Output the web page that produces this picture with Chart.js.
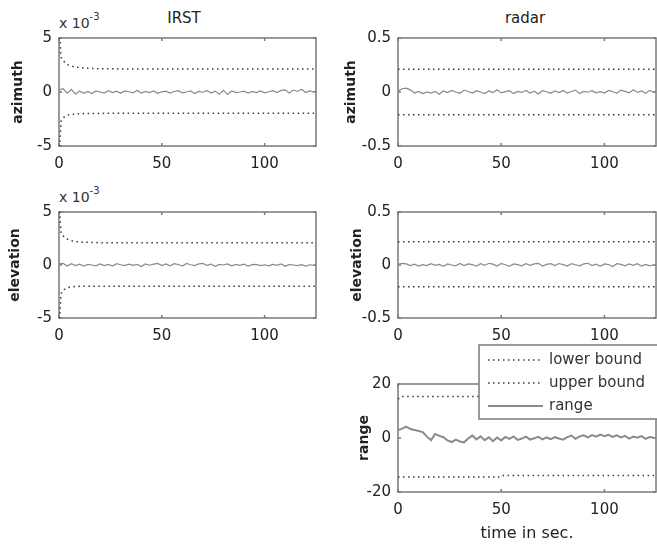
<!DOCTYPE html>
<html>
<head>
<meta charset="utf-8">
<script src="https://cdn.jsdelivr.net/npm/chart.js@4.4.1/dist/chart.umd.min.js"></script>
<style>
  body { margin: 0; background: #fff; width: 657px; height: 545px; overflow: hidden; position: relative; font-family: "DejaVu Sans", sans-serif; }
  .panel { position: absolute; }
  .lbl { position: absolute; color: #222; white-space: nowrap; font-size: 15px; line-height: 18px; }
  .mult { position: absolute; color: #333; white-space: nowrap; font-size: 14px; line-height: 17px; }
  .mult span { position: relative; top: -8px; font-size: 10px; }
</style>
</head>
<body>
<div class="lbl" style="left:184px; top:9px; transform:translateX(-50%);">IRST</div>
<div class="lbl" style="left:525px; top:9px; transform:translateX(-50%);">radar</div>
<div class="mult" style="left:59px; top:15px;">x 10<span>-3</span></div>
<div class="mult" style="left:59px; top:189px;">x 10<span>-3</span></div>

<script>
// tempo (s) - amostras a cada 2 s
const timeSec = [0,2,4,6,8,10,12,14,16,18,
                 20,22,24,26,28,30,32,34,36,38,
                 40,42,44,46,48,50,52,54,56,58,
                 60,62,64,66,68,70,72,74,76,78,
                 80,82,84,86,88,90,92,94,96,98,
                 100,102,104,106,108,110,112,114,116,118,
                 120,122,124];

// IRST azimute (x 10^-3)
const irstAz = [0.20,0.30,-0.10,0.25,-0.20,0.10,-0.12,0.05,-0.15,0.10,
                0.00,-0.10,0.12,-0.05,0.08,-0.12,0.10,0.02,-0.08,0.15,
                -0.10,0.05,-0.05,0.10,-0.12,0.02,0.08,-0.10,0.05,0.12,
                -0.08,0.00,0.10,-0.15,0.05,-0.02,0.12,-0.10,0.08,-0.20,
                0.15,-0.22,0.10,-0.05,0.00,0.08,-0.10,0.05,-0.06,0.10,
                -0.08,0.02,0.12,-0.05,0.15,0.20,-0.10,0.18,0.05,0.25,
                -0.05,0.10,0.00];
const irstAzBoundTime = [0,1,2,3,4,6,8,12,20,40,125];
const irstAzUpper = [6.0,3.2,2.9,2.7,2.55,2.4,2.3,2.22,2.15,2.13,2.13];
const irstAzLower = [-6.0,-2.7,-2.4,-2.25,-2.15,-2.08,-2.04,-2.0,-1.98,-1.97,-1.97];

// IRST elevação (x 10^-3)
const irstEl = [0.10,0.15,-0.10,0.12,-0.05,0.08,-0.10,0.05,0.00,-0.08,
                0.10,-0.05,0.06,-0.10,0.12,0.02,-0.06,0.08,-0.04,0.05,
                -0.15,0.10,-0.02,0.08,0.15,-0.05,0.10,-0.08,0.12,0.05,
                -0.10,0.14,0.02,-0.06,0.10,0.15,-0.04,0.08,-0.12,0.06,
                0.00,0.10,-0.08,0.05,-0.03,0.08,-0.10,0.04,0.06,-0.05,
                0.02,-0.08,0.06,-0.04,0.10,-0.12,0.05,0.00,-0.06,0.04,
                -0.10,0.02,-0.05];
const irstElBoundTime = [0,1,2,3,4,6,8,12,20,125];
const irstElUpper = [6.0,3.0,2.75,2.6,2.45,2.3,2.2,2.15,2.1,2.1];
const irstElLower = [-6.0,-2.7,-2.4,-2.25,-2.15,-2.08,-2.03,-2.0,-2.0,-2.0];

// radar azimute / elevação
const radarAz = [0.010,0.030,0.035,0.020,-0.010,0.005,-0.015,0.000,-0.010,0.005,
                 -0.020,0.010,-0.005,0.015,0.000,-0.012,0.018,0.005,-0.010,0.012,
                 0.000,-0.015,0.010,-0.005,0.020,-0.008,0.004,0.012,-0.015,0.006,
                 -0.004,0.015,-0.010,0.008,-0.018,0.012,0.002,-0.012,0.010,-0.006,
                 0.015,-0.010,0.005,0.018,-0.014,0.006,-0.002,0.012,-0.008,0.004,
                 -0.010,0.014,0.004,-0.012,0.018,0.006,-0.008,0.020,-0.004,0.010,
                 -0.012,0.015,-0.005];
const radarEl = [0.005,0.015,0.010,-0.005,0.008,-0.010,0.004,-0.006,0.012,-0.004,
                 0.006,-0.012,0.010,0.000,-0.008,0.014,-0.006,0.010,0.004,-0.010,
                 0.012,-0.004,0.016,0.008,-0.010,0.014,0.002,-0.012,0.010,0.004,
                 -0.008,0.012,-0.004,0.010,0.016,-0.010,0.006,0.012,-0.006,0.014,
                 0.004,-0.010,0.012,0.002,-0.008,0.010,0.016,-0.006,0.008,-0.012,
                 0.010,0.004,-0.014,0.012,0.006,-0.008,0.010,-0.004,0.012,-0.010,
                 0.006,-0.008,0.002];
const radarBoundTime = [0,125];
const radarAzUpper = [0.21,0.21];
const radarAzLower = [-0.21,-0.21];
const radarElUpper = [0.22,0.22];
const radarElLower = [-0.205,-0.205];

// distância (range)
const rangeMeas = [2.8,3.5,4.2,3.3,3.0,2.6,2.2,0.5,-0.8,1.5,
                   0.8,0.3,-0.9,-1.5,-0.6,-1.3,-1.6,-0.2,0.9,-0.5,
                   0.6,-0.8,0.3,-1.2,0.2,-0.9,0.4,-0.3,0.6,-0.7,
                   -0.2,0.5,-0.6,-0.1,0.4,-0.5,0.2,-0.4,0.3,-0.2,
                   -0.6,0.3,0.9,-0.3,0.6,1.0,0.2,1.1,0.5,1.3,
                   0.7,1.2,0.4,1.0,0.2,0.8,-0.2,0.5,0.1,0.7,
                   -0.3,0.4,0.1];
const rangeUpperTime = [0,2,125];
const rangeUpper = [14.4,15.4,15.4];
const rangeLowerTime = [0,50,51,125];
const rangeLower = [-14.4,-14.4,-13.9,-13.9];

// ticks
const timeTicks = [0,50,100];
const irstTicks = [-5,0,5];
const radarTicks = [-0.5,0,0.5];
const rangeTicks = [-20,0,20];

const toXY = (xs, ys) => xs.map((x, i) => ({x: x, y: ys[i]}));

const BOUND = '#3a3a3a';
const MEAS = '#8a8a8a';

function boundSet(label, xs, ys) {
    return { label: label, data: toXY(xs, ys), borderColor: BOUND, borderWidth: 1.5,
             borderDash: [1.5, 3.5], pointRadius: 0, tension: 0, fill: false };
}
function measSet(label, xs, ys, w) {
    return { label: label, data: toXY(xs, ys), borderColor: MEAS, borderWidth: w || 1.2,
             pointRadius: 0, tension: 0, fill: false };
}

// moldura estilo MATLAB com ticks para dentro
const matlabFrame = {
    id: 'matlabFrame',
    beforeDatasetsDraw(chart) {
        const {ctx, chartArea: a, scales} = chart;
        ctx.save();
        ctx.strokeStyle = '#7a7a7a';
        ctx.lineWidth = 1.5;
        ctx.strokeRect(a.left, a.top, a.right - a.left, a.bottom - a.top);
        ctx.beginPath();
        scales.x.ticks.forEach(t => {
            const x = scales.x.getPixelForValue(t.value);
            ctx.moveTo(x, a.bottom); ctx.lineTo(x, a.bottom - 3);
            ctx.moveTo(x, a.top); ctx.lineTo(x, a.top + 3);
        });
        scales.y.ticks.forEach(t => {
            const y = scales.y.getPixelForValue(t.value);
            ctx.moveTo(a.left, y); ctx.lineTo(a.left + 3, y);
            ctx.moveTo(a.right, y); ctx.lineTo(a.right - 3, y);
        });
        ctx.stroke();
        ctx.restore();
    }
};

// legenda com caixa, posicionada sobre o eixo (como no MATLAB)
const boxLegend = {
    id: 'boxLegend',
    afterDraw(chart, args, opts) {
        if (!opts || !opts.display) return;
        const {ctx, chartArea: a} = chart;
        const left = a.left + opts.dx, top = a.top + opts.dy;
        ctx.save();
        ctx.fillStyle = '#fff';
        ctx.strokeStyle = '#7a7a7a';
        ctx.lineWidth = 1.5;
        ctx.fillRect(left, top, opts.w, opts.h);
        ctx.strokeRect(left, top, opts.w, opts.h);
        ctx.font = '15px "DejaVu Sans"';
        ctx.textBaseline = 'middle';
        chart.data.datasets.forEach((ds, i) => {
            const y = top + opts.firstRow + i * opts.rowGap;
            ctx.strokeStyle = ds.borderColor;
            ctx.lineWidth = ds.borderWidth;
            ctx.setLineDash(ds.borderDash || []);
            ctx.beginPath();
            ctx.moveTo(left + 9, y); ctx.lineTo(left + 64, y);
            ctx.stroke();
            ctx.setLineDash([]);
            ctx.fillStyle = '#333';
            ctx.fillText(ds.label, left + 70, y);
        });
        ctx.restore();
    }
};

function makePanel(p) {
    const top = p.plot.top - p.padTop;
    const right = Math.min(657, p.plot.right + 2);
    const w = right - p.boxLeft, h = p.boxBottom - top;
    const div = document.createElement('div');
    div.className = 'panel';
    div.style.left = p.boxLeft + 'px';
    div.style.top = top + 'px';
    div.style.width = w + 'px';
    div.style.height = h + 'px';
    const cv = document.createElement('canvas');
    cv.width = w; cv.height = h;
    div.appendChild(cv);
    document.body.appendChild(div);

    const tickFont = { family: '"DejaVu Sans"', size: 15 };
    return new Chart(cv, {
        type: 'line',
        data: { datasets: p.datasets },
        plugins: [matlabFrame, boxLegend],
        options: {
            responsive: false,
            animation: false,
            events: [],
            layout: { padding: { top: p.padTop, right: right - p.plot.right, left: 0, bottom: 0 } },
            plugins: {
                legend: { display: false },
                tooltip: { enabled: false },
                boxLegend: p.legend || { display: false }
            },
            scales: {
                x: {
                    type: 'linear', min: 0, max: 125,
                    grid: { display: false, drawTicks: false },
                    border: { display: false },
                    afterBuildTicks: s => { s.ticks = timeTicks.map(v => ({value: v})); },
                    afterFit: s => { s.height = p.boxBottom - p.plot.bottom; s.paddingLeft = 0; s.paddingRight = 0; },
                    ticks: { font: tickFont, color: '#222', padding: 9, maxRotation: 0,
                             callback: v => String(v) },
                    title: p.xTitle ? { display: true, text: p.xTitle, color: '#222',
                                        font: { family: '"DejaVu Sans"', size: 16 }, padding: 0 }
                                    : { display: false }
                },
                y: {
                    min: p.yTicks[0], max: p.yTicks[p.yTicks.length - 1],
                    grid: { display: false, drawTicks: false },
                    border: { display: false },
                    afterBuildTicks: s => { s.ticks = p.yTicks.map(v => ({value: v})); },
                    afterFit: s => { s.width = p.plot.left - p.boxLeft; s.paddingTop = 0; s.paddingBottom = 0; },
                    ticks: { font: tickFont, color: '#222', padding: 7, callback: v => String(v) },
                    title: { display: true, text: p.yTitle, color: '#222', padding: 0,
                             font: { family: '"DejaVu Sans"', size: 14, weight: 'bold' } }
                }
            }
        }
    });
}

// IRST azimute
makePanel({
    plot: {left: 59, right: 316, top: 38, bottom: 146}, padTop: 12, boxLeft: 10, boxBottom: 178,
    yTicks: irstTicks, yTitle: 'azimuth',
    datasets: [
        boundSet('lower bound', irstAzBoundTime, irstAzLower),
        boundSet('upper bound', irstAzBoundTime, irstAzUpper),
        measSet('azimuth', timeSec, irstAz)
    ]
});
// radar azimute
makePanel({
    plot: {left: 398, right: 656, top: 38, bottom: 146}, padTop: 12, boxLeft: 343, boxBottom: 178,
    yTicks: radarTicks, yTitle: 'azimuth',
    datasets: [
        boundSet('lower bound', radarBoundTime, radarAzLower),
        boundSet('upper bound', radarBoundTime, radarAzUpper),
        measSet('azimuth', timeSec, radarAz)
    ]
});
// IRST elevação
makePanel({
    plot: {left: 59, right: 316, top: 212, bottom: 318}, padTop: 12, boxLeft: 7, boxBottom: 348,
    yTicks: irstTicks, yTitle: 'elevation',
    datasets: [
        boundSet('lower bound', irstElBoundTime, irstElLower),
        boundSet('upper bound', irstElBoundTime, irstElUpper),
        measSet('elevation', timeSec, irstEl)
    ]
});
// radar elevação
makePanel({
    plot: {left: 398, right: 656, top: 212, bottom: 318}, padTop: 12, boxLeft: 349, boxBottom: 348,
    yTicks: radarTicks, yTitle: 'elevation',
    datasets: [
        boundSet('lower bound', radarBoundTime, radarElLower),
        boundSet('upper bound', radarBoundTime, radarElUpper),
        measSet('elevation', timeSec, radarEl)
    ]
});
// radar distância
makePanel({
    plot: {left: 398, right: 656, top: 384, bottom: 492}, padTop: 44, boxLeft: 356, boxBottom: 543,
    yTicks: rangeTicks, yTitle: 'range', xTitle: 'time in sec.',
    legend: { display: true, dx: 81, dy: -39, w: 200, h: 74, firstRow: 15, rowGap: 23 },
    datasets: [
        boundSet('lower bound', rangeLowerTime, rangeLower),
        boundSet('upper bound', rangeUpperTime, rangeUpper),
        measSet('range', timeSec, rangeMeas, 2)
    ]
});
</script>
</body>
</html>
